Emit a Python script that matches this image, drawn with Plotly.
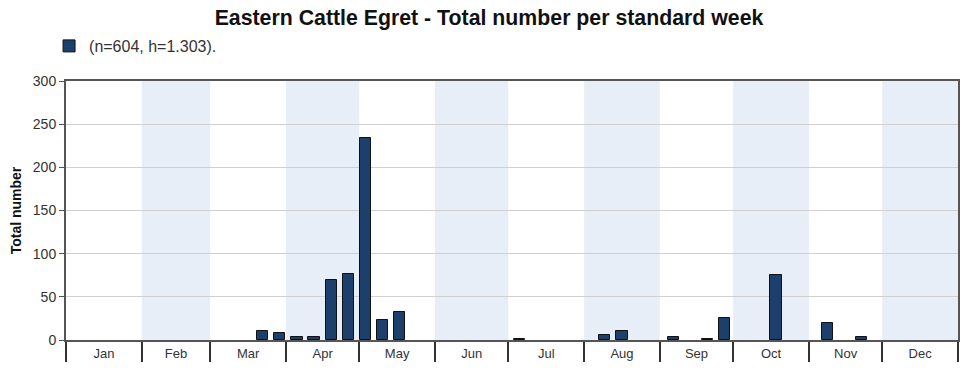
import plotly.graph_objects as go

# ---- data ----
months = ["Jan", "Feb", "Mar", "Apr", "May", "Jun", "Jul", "Aug", "Sep", "Oct", "Nov", "Dec"]
month_start_day = [0, 31, 59, 90, 120, 151, 181, 212, 243, 273, 304, 334, 365]
weeks = list(range(1, 53))
observed_weeks = [12, 13, 14, 15, 16, 17, 18, 19, 20, 27, 32, 33, 36, 38, 39, 42, 45, 47]
observed_counts = [10, 8, 3, 3, 69, 77, 234, 23, 33, 1, 6, 11, 3, 1, 25, 75, 20, 3]
legend_label = "(n=604, h=1.303)."
title = "Eastern Cattle Egret - Total number per standard week"
y_ticks = [0, 50, 100, 150, 200, 250, 300]

week_centers = [(w - 0.5) * 7 for w in observed_weeks]
month_mids = [(month_start_day[i] + month_start_day[i + 1]) / 2 for i in range(12)]

W, H = 978, 373

fig = go.Figure()
fig.add_trace(go.Bar(
    x=week_centers, y=observed_counts, width=4.6,
    marker=dict(color="#1d3f6b", line=dict(color="#111111", width=1)),
    name=legend_label, showlegend=True,
    hovertemplate="Week %{customdata}: %{y}<extra></extra>", customdata=observed_weeks,
))

shapes = []
for i in range(1, 12, 2):
    shapes.append(dict(type="rect", xref="x", yref="paper",
                       x0=month_start_day[i], x1=month_start_day[i + 1], y0=0, y1=1,
                       fillcolor="#e8eef8", line=dict(width=0), layer="below"))

fig.update_layout(
    width=W, height=H,
    margin=dict(l=66, r=20, t=81, b=33, autoexpand=False),
    paper_bgcolor="white", plot_bgcolor="white",
    title=dict(text="<b>" + title + "</b>", x=489 / W, xanchor="center",
               yref="container", y=1 - 18 / H, yanchor="middle",
               font=dict(family="Liberation Sans, Arial", size=21.3, color="#111")),
    font=dict(family="Liberation Sans, Arial", size=13, color="#333"),
    showlegend=True,
    legend=dict(x=-0.019, xanchor="left", yref="container", y=1 - 46 / H, yanchor="middle",
                orientation="h", font=dict(size=16, color="#333"), bgcolor="rgba(0,0,0,0)",
                itemwidth=30),
    shapes=shapes,
    bargap=0,
    xaxis=dict(range=[0, 365], tickmode="array", tickvals=month_mids, ticktext=months,
               ticks="", showgrid=False, zeroline=False, automargin=False,
               showline=True, linecolor="#555", linewidth=2, mirror=True,
               tickfont=dict(size=13, color="#333"),
               minor=dict(tickmode="array", tickvals=month_start_day, ticks="outside",
                          ticklen=20, tickwidth=2, tickcolor="#333", showgrid=False)),
    yaxis=dict(range=[0, 300], tickvals=y_ticks, ticks="outside", ticklen=5,
               tickcolor="#555", showgrid=True, gridcolor="#d0d0d0", gridwidth=1,
               zeroline=False, showline=True, linecolor="#555", linewidth=2, mirror=True,
               automargin=False, tickfont=dict(size=14, color="#333"),
               title=dict(text="<b>Total number</b>", font=dict(size=14, color="#111"), standoff=8)),
)

fig.write_html("out.html", config={"displayModeBar": False},
               post_script="document.body.style.margin='0';")
